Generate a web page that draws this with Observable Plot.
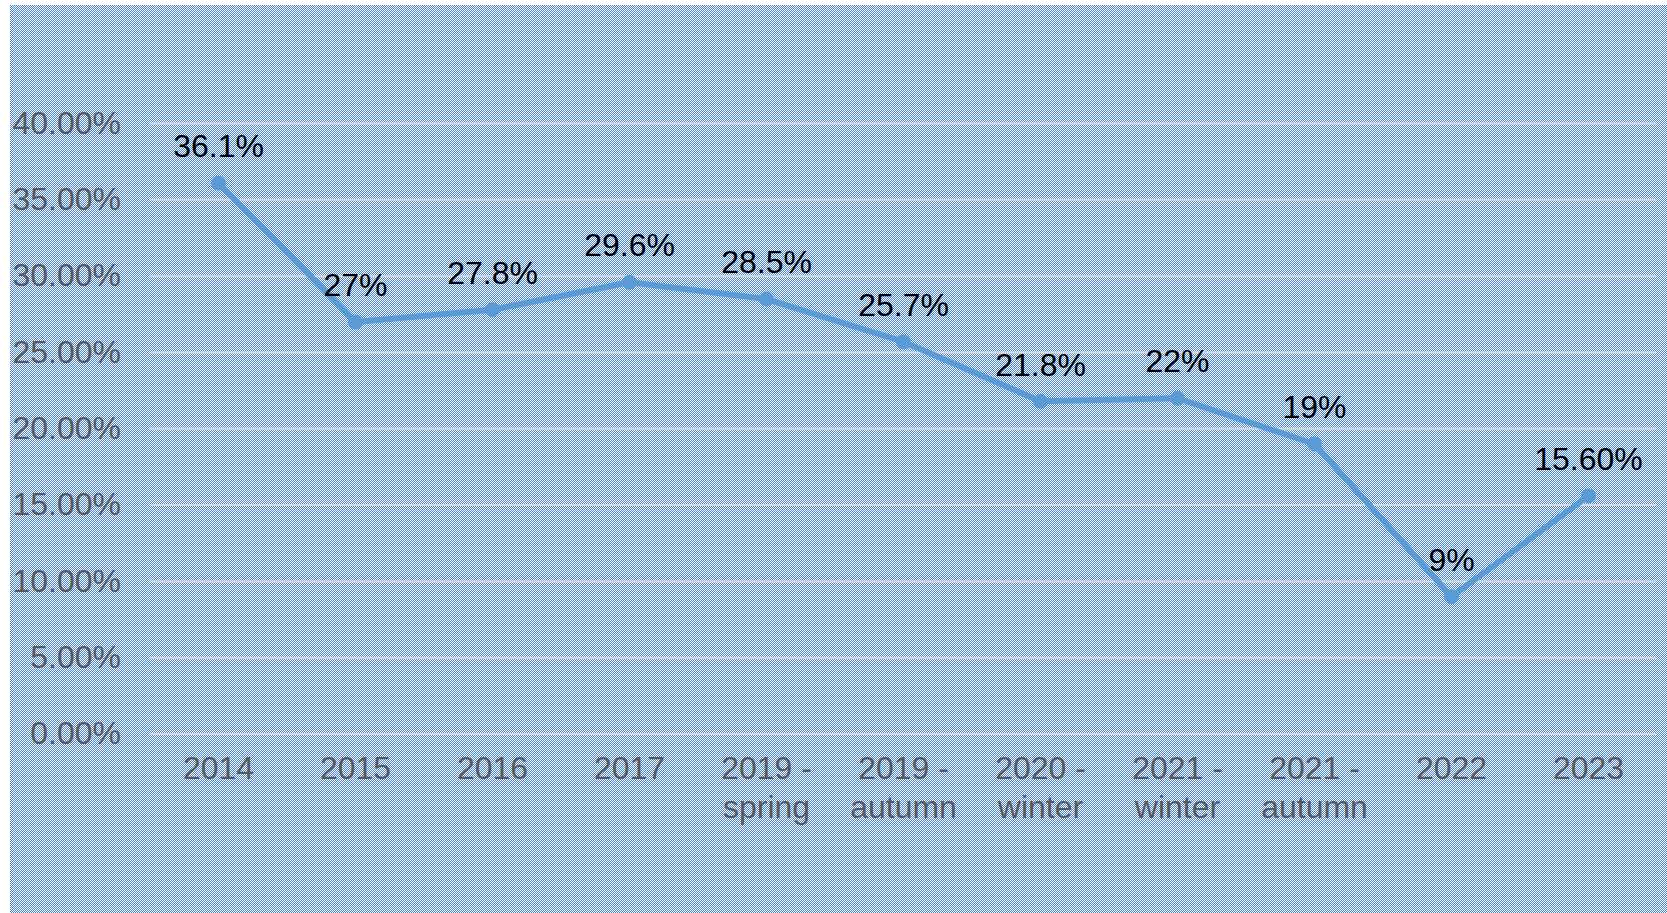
<!DOCTYPE html>
<html>
<head>
<meta charset="utf-8">
<script src="https://cdn.jsdelivr.net/npm/d3@7"></script>
<script src="https://cdn.jsdelivr.net/npm/@observablehq/plot@0.6"></script>
<style>
  html, body { margin: 0; padding: 0; background: #fff; }
  #chart { padding: 5px 0 0 10px; width: 1657px; height: 908px; }
  #chart svg { display: block; }
</style>
</head>
<body>
<div id="chart"></div>
<script>
const categories = ["2014", "2015", "2016", "2017", "2019 -\nspring", "2019 -\nautumn", "2020 -\nwinter", "2021 -\nwinter", "2021 -\nautumn", "2022", "2023"];
const values = [0.361, 0.27, 0.278, 0.296, 0.285, 0.257, 0.218, 0.22, 0.19, 0.09, 0.156];
const valueLabels = ["36.1%", "27%", "27.8%", "29.6%", "28.5%", "25.7%", "21.8%", "22%", "19%", "9%", "15.60%"];
const yTicks = [0, 0.05, 0.10, 0.15, 0.20, 0.25, 0.30, 0.35, 0.40];

const data = categories.map((c, i) => ({category: c, value: values[i], label: valueLabels[i]}));

const lineColor = "#5b9bd5";
const font = "Liberation Sans, Arial, sans-serif";

const chart = Plot.plot({
  width: 1657,
  height: 908,
  marginLeft: 139.5,
  marginRight: 10.5,
  marginTop: 118,
  marginBottom: 179.5,
  style: {fontFamily: font, fontSize: "32px", background: "transparent", overflow: "visible"},
  x: {type: "point", domain: categories, padding: 0.5},
  y: {domain: [0, 0.40]},
  marks: [
    Plot.gridY(yTicks, {stroke: "#d9d9d9", strokeOpacity: 1, strokeWidth: 2}),
    Plot.axisY({ticks: yTicks, tickSize: 0, tickPadding: 29, tickFormat: d => (d * 100).toFixed(2) + "%", fill: "#595959", fontSize: 32, label: null}),
    Plot.axisX({tickSize: 0, tickPadding: 17, fill: "#595959", fontSize: 32, lineHeight: 1.22, label: null}),
    Plot.line(data, {x: "category", y: "value", stroke: lineColor, strokeWidth: 6}),
    Plot.dot(data, {x: "category", y: "value", r: 7.5, fill: lineColor}),
    Plot.text(data, {x: "category", y: "value", text: "label", dy: -36, fill: "#000", fontSize: 32})
  ]
});

// checkerboard background pattern
const svg = d3.select(chart);
const defs = svg.insert("defs", ":first-child");
const pat = defs.append("pattern").attr("id", "checker").attr("width", 2).attr("height", 2).attr("patternUnits", "userSpaceOnUse");
pat.append("rect").attr("width", 2).attr("height", 2).attr("fill", "#ffffff");
pat.append("rect").attr("width", 1).attr("height", 1).attr("fill", "#4784d3").attr("shape-rendering", "crispEdges");
pat.append("rect").attr("x", 1).attr("y", 1).attr("width", 1).attr("height", 1).attr("fill", "#4784d3").attr("shape-rendering", "crispEdges");
svg.insert("rect", "defs + *").attr("width", "100%").attr("height", "100%").attr("fill", "url(#checker)");

document.getElementById("chart").appendChild(chart);
</script>
</body>
</html>
